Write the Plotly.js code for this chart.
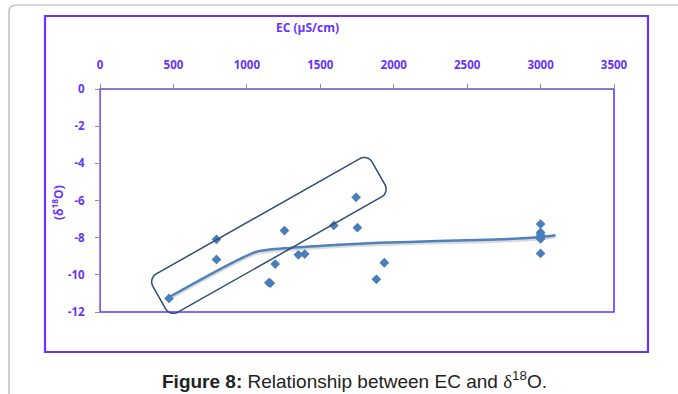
<!DOCTYPE html>
<html>
<head>
<meta charset="utf-8">
<script src="https://cdn.plot.ly/plotly-3.0.1.min.js"></script>
<style>html,body{margin:0;padding:0;background:#fff;}#chart{width:678px;height:394px;}</style>
</head>
<body>
<div id="chart"></div>
<script>
// ---- data ----
const ecValues = [470, 793, 793, 1256, 1193, 1150, 1160, 1351, 1394, 1592, 1744, 1753, 1882, 1936, 3000, 3000, 3000, 3000, 3000];
const d18OValues = [-11.27, -8.09, -9.17, -7.62, -9.42, -10.42, -10.45, -8.92, -8.88, -7.34, -5.83, -7.46, -10.24, -9.35, -7.27, -7.72, -7.86, -8.07, -8.85];
const trendEC = [476, 1061, 1300, 1628, 1900, 2300, 2700, 3000, 3102];
const trendD18O = [-11.18, -8.77, -8.55, -8.38, -8.28, -8.18, -8.10, -7.97, -7.87];
const xTicks = [0, 500, 1000, 1500, 2000, 2500, 3000, 3500];
const yTicks = [0, -2, -4, -6, -8, -10, -12];

// ---- layout constants ----
const W = 678, H = 394;
const M = {l: 100, r: 64, t: 89, b: 82};
const PW = W - M.l - M.r, PH = H - M.t - M.b;
const XR = [0, 3500], YR = [-12, 0];
const kx = PW / (XR[1] - XR[0]), ky = PH / (YR[1] - YR[0]);
const PURPLE = '#6633ff';
const MARK = '#4a7ebb';

// highlight box (rotated rounded rectangle): centre in data units, size in pixels
const box = {cx: 1150, cy: -7.88, halfLen: 126, halfWid: 22, angle: 29.5, r: 9};
function roundedRectPath(b) {
  const a = b.angle * Math.PI / 180;
  const u = [Math.cos(a), -Math.sin(a)];
  const n = [Math.sin(a), Math.cos(a)];
  const L = b.halfLen, Wd = b.halfWid, r = b.r;
  const corners = [[L - r, -(Wd - r), -Math.PI / 2, 0], [L - r, Wd - r, 0, Math.PI / 2],
                   [-(L - r), Wd - r, Math.PI / 2, Math.PI], [-(L - r), -(Wd - r), Math.PI, 1.5 * Math.PI]];
  const pts = [];
  corners.forEach(c => {
    for (let i = 0; i <= 8; i++) {
      const th = c[2] + (c[3] - c[2]) * i / 8;
      const s = c[0] + r * Math.cos(th), t = c[1] + r * Math.sin(th);
      const px = s * u[0] + t * n[0], py = s * u[1] + t * n[1];
      const dx = b.cx + px / kx, dy = b.cy - py / ky;
      pts.push([(dx - XR[0]) / (XR[1] - XR[0]), (dy - YR[0]) / (YR[1] - YR[0])]);
    }
  });
  return 'M ' + pts.map(p => p[0].toFixed(5) + ',' + p[1].toFixed(5)).join(' L ') + ' Z';
}

const tickFont = {family: 'Open Sans, sans-serif', size: 11.5, color: PURPLE, weight: 'bold'};

const traces = [
  {x: trendEC, y: trendD18O.map(v => v - 0.1), mode: 'lines', type: 'scatter',
   line: {color: 'rgba(0,0,0,0.14)', width: 3, shape: 'spline', smoothing: 0.6}, hoverinfo: 'skip', showlegend: false},
  {x: trendEC, y: trendD18O, mode: 'lines', type: 'scatter',
   line: {color: '#4f81bd', width: 2.5, shape: 'spline', smoothing: 0.6}, showlegend: false},
  {x: ecValues, y: d18OValues, mode: 'markers', type: 'scatter',
   marker: {symbol: 'diamond', size: 7.5, color: MARK}, showlegend: false}
];

const gx0 = (9 - M.l) / PW, gy0 = (H - M.b - 5) / PH, gx1 = (700 - M.l) / PW, gyb = (H - M.b - 410) / PH;
const rxp = 7 / PW, ryp = 7 / PH;

const layout = {
  width: W, height: H, margin: M,
  paper_bgcolor: '#fff', plot_bgcolor: '#fff', showlegend: false,
  xaxis: {side: 'top', range: XR, tickvals: xTicks, ticktext: xTicks.map(String),
          showgrid: false, zeroline: false, showline: true, linecolor: '#8c8c8c', linewidth: 1,
          ticks: 'outside', ticklen: 4, tickcolor: '#8c8c8c', tickfont: tickFont, ticklabelstandoff: 10, fixedrange: true},
  yaxis: {range: YR, tickvals: yTicks, ticktext: yTicks.map(String),
          showgrid: false, zeroline: false, showline: true, linecolor: '#9a8fd6', linewidth: 1,
          ticks: 'outside', ticklen: 4, tickcolor: '#8c8c8c', tickfont: tickFont, ticklabelstandoff: 8, fixedrange: true},
  shapes: [
    {type: 'path', xref: 'paper', yref: 'paper', layer: 'below',
     path: `M ${gx0},${gyb} L ${gx0},${gy0 - ryp} Q ${gx0},${gy0} ${gx0 + rxp},${gy0} L ${gx1},${gy0}`,
     line: {color: '#b0b0b0', width: 1.2}},
    {type: 'rect', xref: 'paper', yref: 'paper', layer: 'below',
     x0: (45 - M.l) / PW, x1: (648 - M.l) / PW, y0: (H - M.b - 352) / PH, y1: (H - M.b - 16) / PH,
     line: {color: PURPLE, width: 2.2}},
    {type: 'rect', xref: 'paper', yref: 'paper', layer: 'below', x0: 0, x1: 1, y0: 0, y1: 1,
     line: {color: PURPLE, width: 1.6}},
    {type: 'path', xref: 'paper', yref: 'paper', path: roundedRectPath(box),
     line: {color: '#2b4d78', width: 1.5}}
  ],
  annotations: [
    {text: 'EC (µS/cm)', xref: 'paper', yref: 'paper', x: (307 - M.l) / PW, y: (H - M.b - 27) / PH,
     showarrow: false, xanchor: 'center', yanchor: 'middle',
     font: {family: 'Open Sans, sans-serif', size: 12, color: PURPLE, weight: 'bold'}},
    {text: '(δ<sup>18</sup>O)', xref: 'paper', yref: 'paper', x: (58 - M.l) / PW, y: (H - M.b - 203) / PH,
     showarrow: false, xanchor: 'center', yanchor: 'middle', textangle: -90,
     font: {family: 'Open Sans, sans-serif', size: 12, color: PURPLE, weight: 'bold'}},
    {text: '<b>Figure 8:</b> Relationship between EC and <span style="font-family:Liberation Serif">δ</span><sup>18</sup>O.',
     xref: 'paper', yref: 'paper', x: (354 - M.l) / PW, y: (H - M.b - 380) / PH,
     showarrow: false, xanchor: 'center', yanchor: 'middle',
     font: {family: 'Liberation Sans, Arial, sans-serif', size: 19, color: '#222'}}
  ]
};

Plotly.newPlot('chart', traces, layout, {staticPlot: true, displayModeBar: false});
</script>
</body>
</html>
